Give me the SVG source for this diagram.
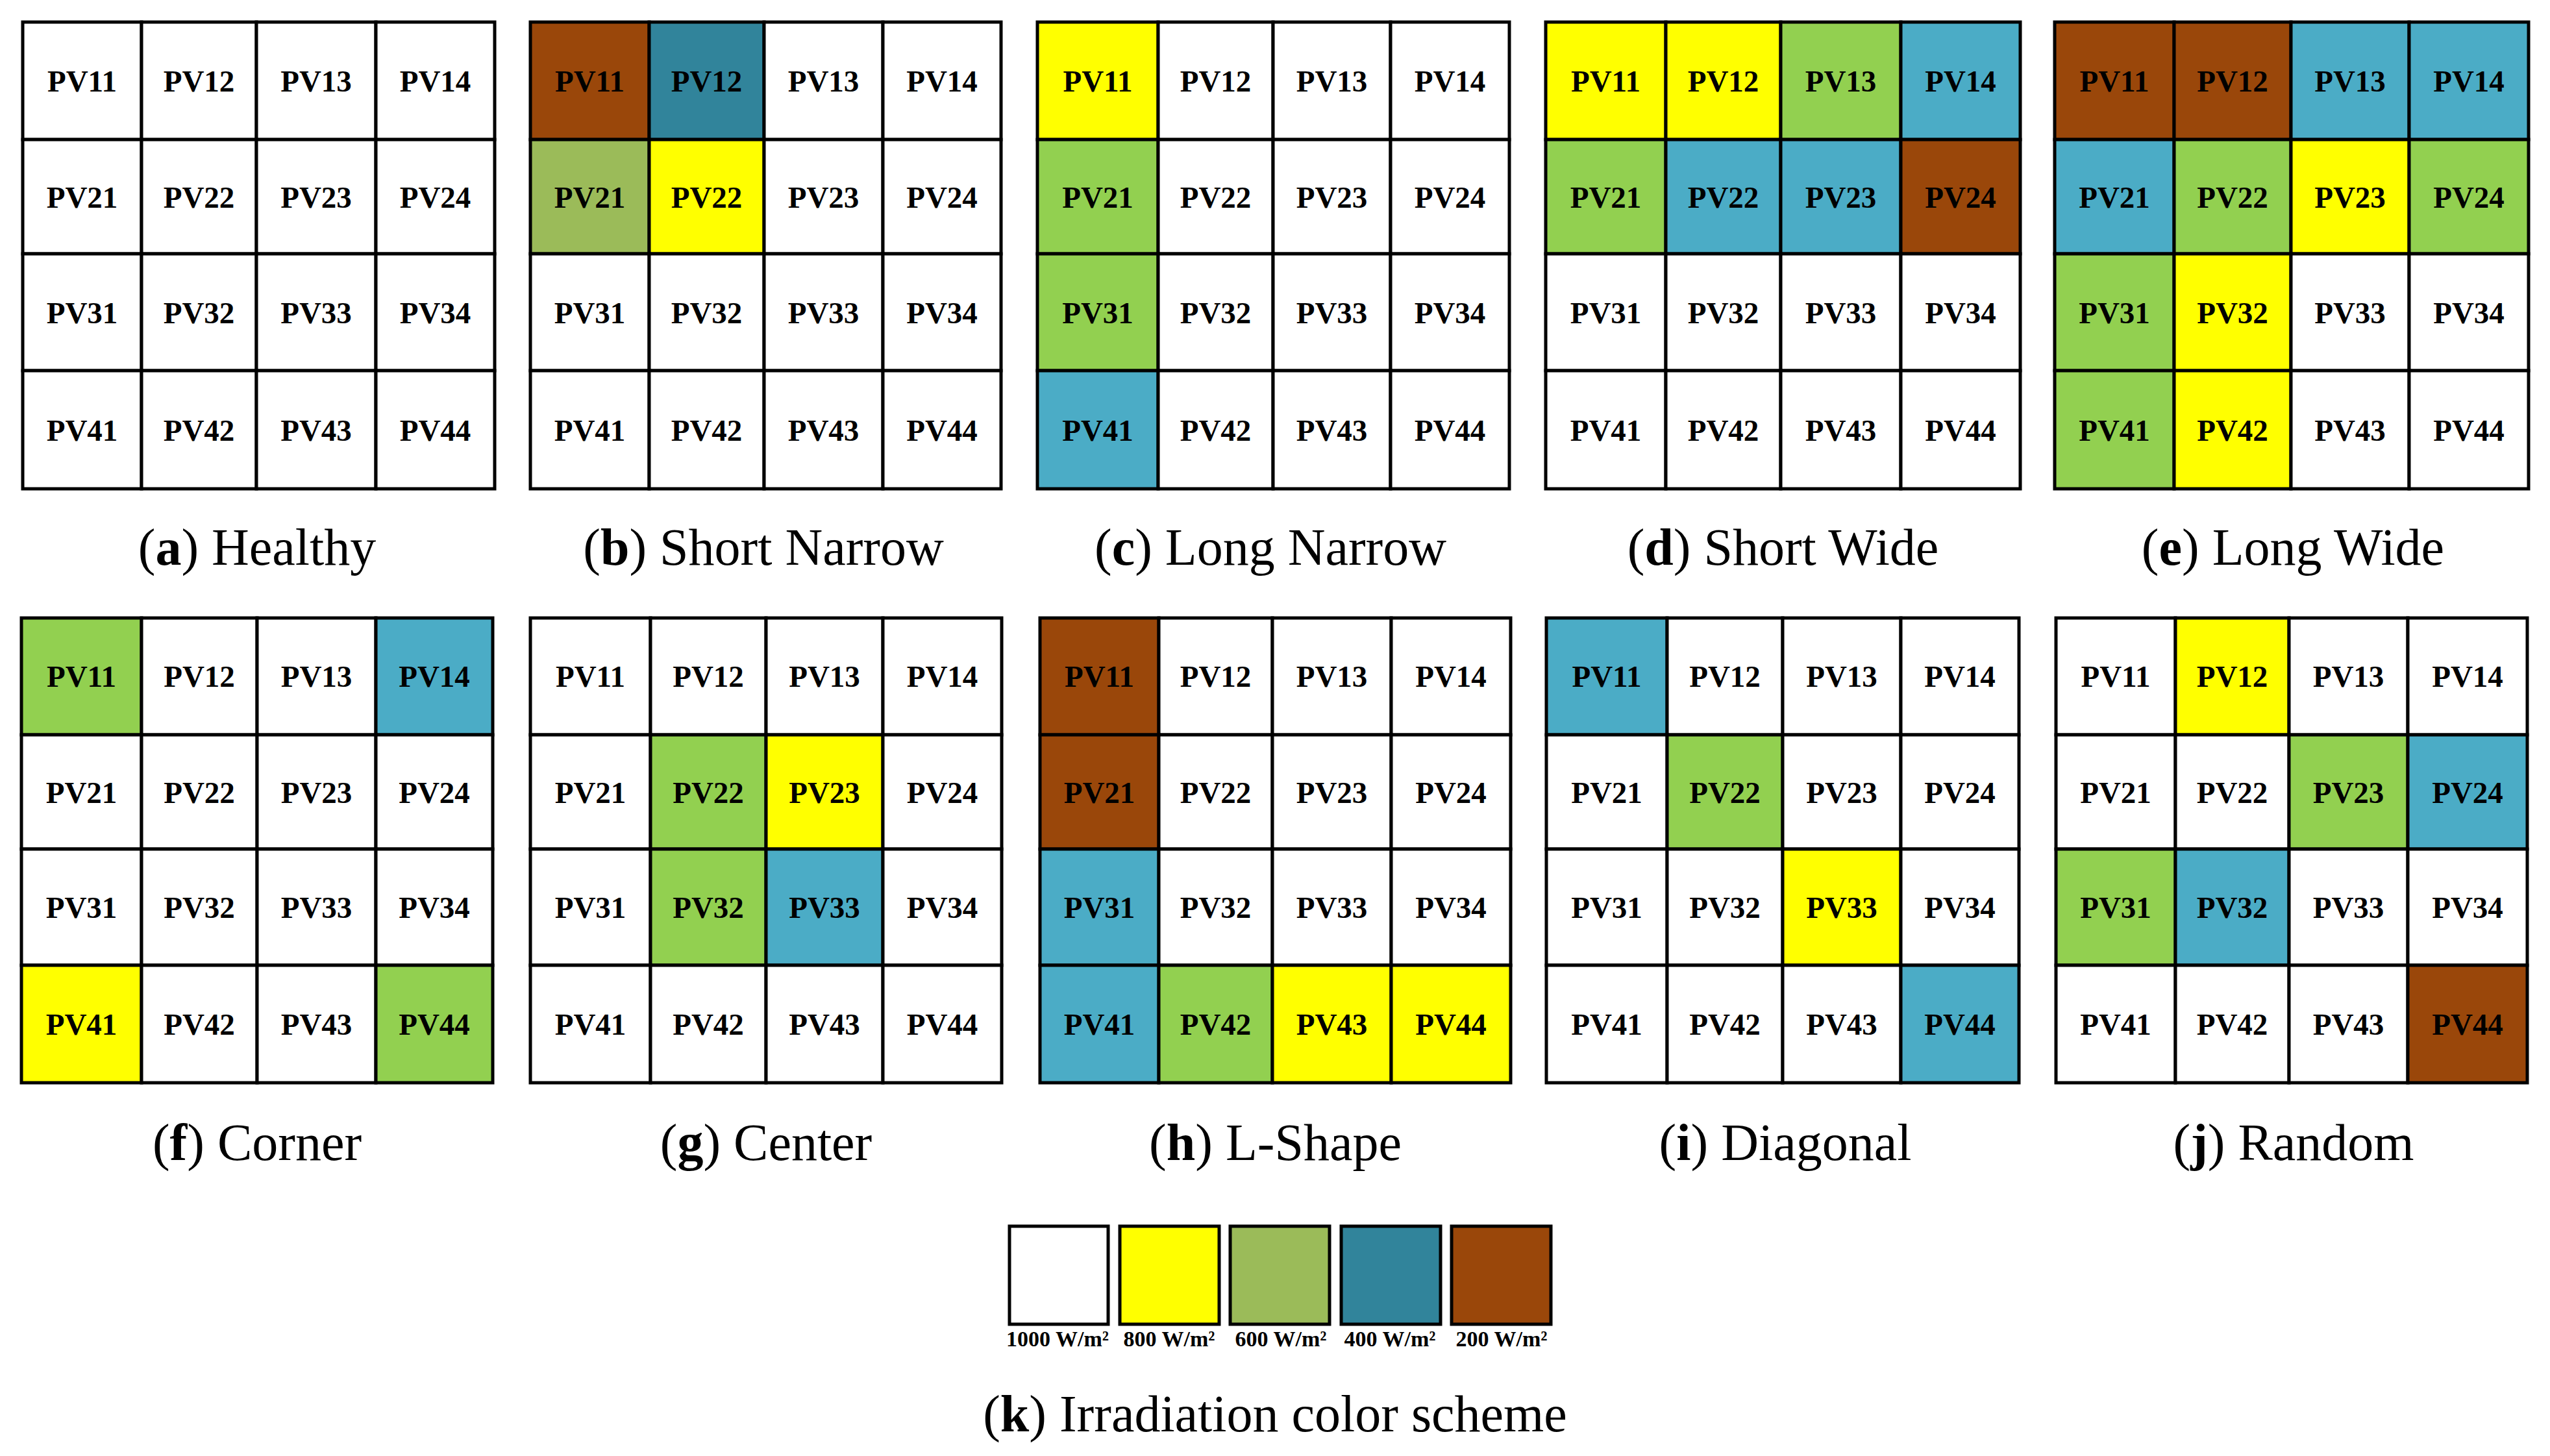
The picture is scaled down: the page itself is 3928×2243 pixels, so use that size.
<svg xmlns="http://www.w3.org/2000/svg" width="3928" height="2243" viewBox="0 0 3928 2243">
<style>
.c{stroke:#000;stroke-width:5;stroke-linejoin:miter}
.w{fill:#fff}.y{fill:#ffff00}.g{fill:#92d050}.b{fill:#4bacc6}.r{fill:#9a470a}.t{fill:#31849b}.o{fill:#9bbb59}
.l{font-family:"Liberation Serif","DejaVu Serif",serif;font-weight:bold;font-size:47px;text-anchor:middle;fill:#000}
.cap{font-family:"Liberation Serif","DejaVu Serif",serif;font-size:80px;text-anchor:middle;fill:#000}
.lg{font-family:"Liberation Serif","DejaVu Serif",serif;font-weight:bold;font-size:34px;text-anchor:middle;fill:#000}
</style>
<rect width="3928" height="2243" fill="#fff"/>

<g id="panel-a">
<g id="a11"><rect class="c w" x="35" y="34" width="183" height="181"/><text class="l" x="126.5" y="141">PV11</text></g>
<g id="a12"><rect class="c w" x="218" y="34" width="177" height="181"/><text class="l" x="306.5" y="141">PV12</text></g>
<g id="a13"><rect class="c w" x="395" y="34" width="184" height="181"/><text class="l" x="487" y="141">PV13</text></g>
<g id="a14"><rect class="c w" x="579" y="34" width="183" height="181"/><text class="l" x="670.5" y="141">PV14</text></g>
<g id="a21"><rect class="c w" x="35" y="215" width="183" height="176"/><text class="l" x="126.5" y="320">PV21</text></g>
<g id="a22"><rect class="c w" x="218" y="215" width="177" height="176"/><text class="l" x="306.5" y="320">PV22</text></g>
<g id="a23"><rect class="c w" x="395" y="215" width="184" height="176"/><text class="l" x="487" y="320">PV23</text></g>
<g id="a24"><rect class="c w" x="579" y="215" width="183" height="176"/><text class="l" x="670.5" y="320">PV24</text></g>
<g id="a31"><rect class="c w" x="35" y="391" width="183" height="180"/><text class="l" x="126.5" y="498">PV31</text></g>
<g id="a32"><rect class="c w" x="218" y="391" width="177" height="180"/><text class="l" x="306.5" y="498">PV32</text></g>
<g id="a33"><rect class="c w" x="395" y="391" width="184" height="180"/><text class="l" x="487" y="498">PV33</text></g>
<g id="a34"><rect class="c w" x="579" y="391" width="183" height="180"/><text class="l" x="670.5" y="498">PV34</text></g>
<g id="a41"><rect class="c w" x="35" y="571" width="183" height="182"/><text class="l" x="126.5" y="679">PV41</text></g>
<g id="a42"><rect class="c w" x="218" y="571" width="177" height="182"/><text class="l" x="306.5" y="679">PV42</text></g>
<g id="a43"><rect class="c w" x="395" y="571" width="184" height="182"/><text class="l" x="487" y="679">PV43</text></g>
<g id="a44"><rect class="c w" x="579" y="571" width="183" height="182"/><text class="l" x="670.5" y="679">PV44</text></g>
<text class="cap" x="396" y="870">(<tspan font-weight="bold">a</tspan>) Healthy</text>
</g>

<g id="panel-b">
<g id="b11"><rect class="c r" x="817" y="34" width="183" height="181"/><text class="l" x="908.5" y="141">PV11</text></g>
<g id="b12"><rect class="c t" x="1000" y="34" width="177" height="181"/><text class="l" x="1088.5" y="141">PV12</text></g>
<g id="b13"><rect class="c w" x="1177" y="34" width="183" height="181"/><text class="l" x="1268.5" y="141">PV13</text></g>
<g id="b14"><rect class="c w" x="1360" y="34" width="182" height="181"/><text class="l" x="1451" y="141">PV14</text></g>
<g id="b21"><rect class="c o" x="817" y="215" width="183" height="176"/><text class="l" x="908.5" y="320">PV21</text></g>
<g id="b22"><rect class="c y" x="1000" y="215" width="177" height="176"/><text class="l" x="1088.5" y="320">PV22</text></g>
<g id="b23"><rect class="c w" x="1177" y="215" width="183" height="176"/><text class="l" x="1268.5" y="320">PV23</text></g>
<g id="b24"><rect class="c w" x="1360" y="215" width="182" height="176"/><text class="l" x="1451" y="320">PV24</text></g>
<g id="b31"><rect class="c w" x="817" y="391" width="183" height="180"/><text class="l" x="908.5" y="498">PV31</text></g>
<g id="b32"><rect class="c w" x="1000" y="391" width="177" height="180"/><text class="l" x="1088.5" y="498">PV32</text></g>
<g id="b33"><rect class="c w" x="1177" y="391" width="183" height="180"/><text class="l" x="1268.5" y="498">PV33</text></g>
<g id="b34"><rect class="c w" x="1360" y="391" width="182" height="180"/><text class="l" x="1451" y="498">PV34</text></g>
<g id="b41"><rect class="c w" x="817" y="571" width="183" height="182"/><text class="l" x="908.5" y="679">PV41</text></g>
<g id="b42"><rect class="c w" x="1000" y="571" width="177" height="182"/><text class="l" x="1088.5" y="679">PV42</text></g>
<g id="b43"><rect class="c w" x="1177" y="571" width="183" height="182"/><text class="l" x="1268.5" y="679">PV43</text></g>
<g id="b44"><rect class="c w" x="1360" y="571" width="182" height="182"/><text class="l" x="1451" y="679">PV44</text></g>
<text class="cap" x="1176" y="870">(<tspan font-weight="bold">b</tspan>) Short Narrow</text>
</g>

<g id="panel-c">
<g id="c11"><rect class="c y" x="1598" y="34" width="186" height="181"/><text class="l" x="1691" y="141">PV11</text></g>
<g id="c12"><rect class="c w" x="1784" y="34" width="177" height="181"/><text class="l" x="1872.5" y="141">PV12</text></g>
<g id="c13"><rect class="c w" x="1961" y="34" width="181" height="181"/><text class="l" x="2051.5" y="141">PV13</text></g>
<g id="c14"><rect class="c w" x="2142" y="34" width="183" height="181"/><text class="l" x="2233.5" y="141">PV14</text></g>
<g id="c21"><rect class="c g" x="1598" y="215" width="186" height="176"/><text class="l" x="1691" y="320">PV21</text></g>
<g id="c22"><rect class="c w" x="1784" y="215" width="177" height="176"/><text class="l" x="1872.5" y="320">PV22</text></g>
<g id="c23"><rect class="c w" x="1961" y="215" width="181" height="176"/><text class="l" x="2051.5" y="320">PV23</text></g>
<g id="c24"><rect class="c w" x="2142" y="215" width="183" height="176"/><text class="l" x="2233.5" y="320">PV24</text></g>
<g id="c31"><rect class="c g" x="1598" y="391" width="186" height="180"/><text class="l" x="1691" y="498">PV31</text></g>
<g id="c32"><rect class="c w" x="1784" y="391" width="177" height="180"/><text class="l" x="1872.5" y="498">PV32</text></g>
<g id="c33"><rect class="c w" x="1961" y="391" width="181" height="180"/><text class="l" x="2051.5" y="498">PV33</text></g>
<g id="c34"><rect class="c w" x="2142" y="391" width="183" height="180"/><text class="l" x="2233.5" y="498">PV34</text></g>
<g id="c41"><rect class="c b" x="1598" y="571" width="186" height="182"/><text class="l" x="1691" y="679">PV41</text></g>
<g id="c42"><rect class="c w" x="1784" y="571" width="177" height="182"/><text class="l" x="1872.5" y="679">PV42</text></g>
<g id="c43"><rect class="c w" x="1961" y="571" width="181" height="182"/><text class="l" x="2051.5" y="679">PV43</text></g>
<g id="c44"><rect class="c w" x="2142" y="571" width="183" height="182"/><text class="l" x="2233.5" y="679">PV44</text></g>
<text class="cap" x="1957" y="870">(<tspan font-weight="bold">c</tspan>) Long Narrow</text>
</g>

<g id="panel-d">
<g id="d11"><rect class="c y" x="2381" y="34" width="185" height="181"/><text class="l" x="2473.5" y="141">PV11</text></g>
<g id="d12"><rect class="c y" x="2566" y="34" width="177" height="181"/><text class="l" x="2654.5" y="141">PV12</text></g>
<g id="d13"><rect class="c g" x="2743" y="34" width="185" height="181"/><text class="l" x="2835.5" y="141">PV13</text></g>
<g id="d14"><rect class="c b" x="2928" y="34" width="184" height="181"/><text class="l" x="3020" y="141">PV14</text></g>
<g id="d21"><rect class="c g" x="2381" y="215" width="185" height="176"/><text class="l" x="2473.5" y="320">PV21</text></g>
<g id="d22"><rect class="c b" x="2566" y="215" width="177" height="176"/><text class="l" x="2654.5" y="320">PV22</text></g>
<g id="d23"><rect class="c b" x="2743" y="215" width="185" height="176"/><text class="l" x="2835.5" y="320">PV23</text></g>
<g id="d24"><rect class="c r" x="2928" y="215" width="184" height="176"/><text class="l" x="3020" y="320">PV24</text></g>
<g id="d31"><rect class="c w" x="2381" y="391" width="185" height="180"/><text class="l" x="2473.5" y="498">PV31</text></g>
<g id="d32"><rect class="c w" x="2566" y="391" width="177" height="180"/><text class="l" x="2654.5" y="498">PV32</text></g>
<g id="d33"><rect class="c w" x="2743" y="391" width="185" height="180"/><text class="l" x="2835.5" y="498">PV33</text></g>
<g id="d34"><rect class="c w" x="2928" y="391" width="184" height="180"/><text class="l" x="3020" y="498">PV34</text></g>
<g id="d41"><rect class="c w" x="2381" y="571" width="185" height="182"/><text class="l" x="2473.5" y="679">PV41</text></g>
<g id="d42"><rect class="c w" x="2566" y="571" width="177" height="182"/><text class="l" x="2654.5" y="679">PV42</text></g>
<g id="d43"><rect class="c w" x="2743" y="571" width="185" height="182"/><text class="l" x="2835.5" y="679">PV43</text></g>
<g id="d44"><rect class="c w" x="2928" y="571" width="184" height="182"/><text class="l" x="3020" y="679">PV44</text></g>
<text class="cap" x="2746.5" y="870">(<tspan font-weight="bold">d</tspan>) Short Wide</text>
</g>

<g id="panel-e">
<g id="e11"><rect class="c r" x="3165" y="34" width="184" height="181"/><text class="l" x="3257" y="141">PV11</text></g>
<g id="e12"><rect class="c r" x="3349" y="34" width="180" height="181"/><text class="l" x="3439" y="141">PV12</text></g>
<g id="e13"><rect class="c b" x="3529" y="34" width="182" height="181"/><text class="l" x="3620" y="141">PV13</text></g>
<g id="e14"><rect class="c b" x="3711" y="34" width="184" height="181"/><text class="l" x="3803" y="141">PV14</text></g>
<g id="e21"><rect class="c b" x="3165" y="215" width="184" height="176"/><text class="l" x="3257" y="320">PV21</text></g>
<g id="e22"><rect class="c g" x="3349" y="215" width="180" height="176"/><text class="l" x="3439" y="320">PV22</text></g>
<g id="e23"><rect class="c y" x="3529" y="215" width="182" height="176"/><text class="l" x="3620" y="320">PV23</text></g>
<g id="e24"><rect class="c g" x="3711" y="215" width="184" height="176"/><text class="l" x="3803" y="320">PV24</text></g>
<g id="e31"><rect class="c g" x="3165" y="391" width="184" height="180"/><text class="l" x="3257" y="498">PV31</text></g>
<g id="e32"><rect class="c y" x="3349" y="391" width="180" height="180"/><text class="l" x="3439" y="498">PV32</text></g>
<g id="e33"><rect class="c w" x="3529" y="391" width="182" height="180"/><text class="l" x="3620" y="498">PV33</text></g>
<g id="e34"><rect class="c w" x="3711" y="391" width="184" height="180"/><text class="l" x="3803" y="498">PV34</text></g>
<g id="e41"><rect class="c g" x="3165" y="571" width="184" height="182"/><text class="l" x="3257" y="679">PV41</text></g>
<g id="e42"><rect class="c y" x="3349" y="571" width="180" height="182"/><text class="l" x="3439" y="679">PV42</text></g>
<g id="e43"><rect class="c w" x="3529" y="571" width="182" height="182"/><text class="l" x="3620" y="679">PV43</text></g>
<g id="e44"><rect class="c w" x="3711" y="571" width="184" height="182"/><text class="l" x="3803" y="679">PV44</text></g>
<text class="cap" x="3532" y="870">(<tspan font-weight="bold">e</tspan>) Long Wide</text>
</g>

<g id="panel-f">
<g id="f11"><rect class="c g" x="33" y="952" width="185" height="180"/><text class="l" x="125.5" y="1058">PV11</text></g>
<g id="f12"><rect class="c w" x="218" y="952" width="178" height="180"/><text class="l" x="307" y="1058">PV12</text></g>
<g id="f13"><rect class="c w" x="396" y="952" width="183" height="180"/><text class="l" x="487.5" y="1058">PV13</text></g>
<g id="f14"><rect class="c b" x="579" y="952" width="180" height="180"/><text class="l" x="669" y="1058">PV14</text></g>
<g id="f21"><rect class="c w" x="33" y="1132" width="185" height="176"/><text class="l" x="125.5" y="1237">PV21</text></g>
<g id="f22"><rect class="c w" x="218" y="1132" width="178" height="176"/><text class="l" x="307" y="1237">PV22</text></g>
<g id="f23"><rect class="c w" x="396" y="1132" width="183" height="176"/><text class="l" x="487.5" y="1237">PV23</text></g>
<g id="f24"><rect class="c w" x="579" y="1132" width="180" height="176"/><text class="l" x="669" y="1237">PV24</text></g>
<g id="f31"><rect class="c w" x="33" y="1308" width="185" height="179"/><text class="l" x="125.5" y="1414">PV31</text></g>
<g id="f32"><rect class="c w" x="218" y="1308" width="178" height="179"/><text class="l" x="307" y="1414">PV32</text></g>
<g id="f33"><rect class="c w" x="396" y="1308" width="183" height="179"/><text class="l" x="487.5" y="1414">PV33</text></g>
<g id="f34"><rect class="c w" x="579" y="1308" width="180" height="179"/><text class="l" x="669" y="1414">PV34</text></g>
<g id="f41"><rect class="c y" x="33" y="1487" width="185" height="181"/><text class="l" x="125.5" y="1594">PV41</text></g>
<g id="f42"><rect class="c w" x="218" y="1487" width="178" height="181"/><text class="l" x="307" y="1594">PV42</text></g>
<g id="f43"><rect class="c w" x="396" y="1487" width="183" height="181"/><text class="l" x="487.5" y="1594">PV43</text></g>
<g id="f44"><rect class="c g" x="579" y="1487" width="180" height="181"/><text class="l" x="669" y="1594">PV44</text></g>
<text class="cap" x="396" y="1787">(<tspan font-weight="bold">f</tspan>) Corner</text>
</g>

<g id="panel-g">
<g id="g11"><rect class="c w" x="817" y="952" width="185" height="180"/><text class="l" x="909.5" y="1058">PV11</text></g>
<g id="g12"><rect class="c w" x="1002" y="952" width="178" height="180"/><text class="l" x="1091" y="1058">PV12</text></g>
<g id="g13"><rect class="c w" x="1180" y="952" width="180" height="180"/><text class="l" x="1270" y="1058">PV13</text></g>
<g id="g14"><rect class="c w" x="1360" y="952" width="183" height="180"/><text class="l" x="1451.5" y="1058">PV14</text></g>
<g id="g21"><rect class="c w" x="817" y="1132" width="185" height="176"/><text class="l" x="909.5" y="1237">PV21</text></g>
<g id="g22"><rect class="c g" x="1002" y="1132" width="178" height="176"/><text class="l" x="1091" y="1237">PV22</text></g>
<g id="g23"><rect class="c y" x="1180" y="1132" width="180" height="176"/><text class="l" x="1270" y="1237">PV23</text></g>
<g id="g24"><rect class="c w" x="1360" y="1132" width="183" height="176"/><text class="l" x="1451.5" y="1237">PV24</text></g>
<g id="g31"><rect class="c w" x="817" y="1308" width="185" height="179"/><text class="l" x="909.5" y="1414">PV31</text></g>
<g id="g32"><rect class="c g" x="1002" y="1308" width="178" height="179"/><text class="l" x="1091" y="1414">PV32</text></g>
<g id="g33"><rect class="c b" x="1180" y="1308" width="180" height="179"/><text class="l" x="1270" y="1414">PV33</text></g>
<g id="g34"><rect class="c w" x="1360" y="1308" width="183" height="179"/><text class="l" x="1451.5" y="1414">PV34</text></g>
<g id="g41"><rect class="c w" x="817" y="1487" width="185" height="181"/><text class="l" x="909.5" y="1594">PV41</text></g>
<g id="g42"><rect class="c w" x="1002" y="1487" width="178" height="181"/><text class="l" x="1091" y="1594">PV42</text></g>
<g id="g43"><rect class="c w" x="1180" y="1487" width="180" height="181"/><text class="l" x="1270" y="1594">PV43</text></g>
<g id="g44"><rect class="c w" x="1360" y="1487" width="183" height="181"/><text class="l" x="1451.5" y="1594">PV44</text></g>
<text class="cap" x="1180" y="1787">(<tspan font-weight="bold">g</tspan>) Center</text>
</g>

<g id="panel-h">
<g id="h11"><rect class="c r" x="1602" y="952" width="183" height="180"/><text class="l" x="1693.5" y="1058">PV11</text></g>
<g id="h12"><rect class="c w" x="1785" y="952" width="175" height="180"/><text class="l" x="1872.5" y="1058">PV12</text></g>
<g id="h13"><rect class="c w" x="1960" y="952" width="183" height="180"/><text class="l" x="2051.5" y="1058">PV13</text></g>
<g id="h14"><rect class="c w" x="2143" y="952" width="184" height="180"/><text class="l" x="2235" y="1058">PV14</text></g>
<g id="h21"><rect class="c r" x="1602" y="1132" width="183" height="176"/><text class="l" x="1693.5" y="1237">PV21</text></g>
<g id="h22"><rect class="c w" x="1785" y="1132" width="175" height="176"/><text class="l" x="1872.5" y="1237">PV22</text></g>
<g id="h23"><rect class="c w" x="1960" y="1132" width="183" height="176"/><text class="l" x="2051.5" y="1237">PV23</text></g>
<g id="h24"><rect class="c w" x="2143" y="1132" width="184" height="176"/><text class="l" x="2235" y="1237">PV24</text></g>
<g id="h31"><rect class="c b" x="1602" y="1308" width="183" height="179"/><text class="l" x="1693.5" y="1414">PV31</text></g>
<g id="h32"><rect class="c w" x="1785" y="1308" width="175" height="179"/><text class="l" x="1872.5" y="1414">PV32</text></g>
<g id="h33"><rect class="c w" x="1960" y="1308" width="183" height="179"/><text class="l" x="2051.5" y="1414">PV33</text></g>
<g id="h34"><rect class="c w" x="2143" y="1308" width="184" height="179"/><text class="l" x="2235" y="1414">PV34</text></g>
<g id="h41"><rect class="c b" x="1602" y="1487" width="183" height="181"/><text class="l" x="1693.5" y="1594">PV41</text></g>
<g id="h42"><rect class="c g" x="1785" y="1487" width="175" height="181"/><text class="l" x="1872.5" y="1594">PV42</text></g>
<g id="h43"><rect class="c y" x="1960" y="1487" width="183" height="181"/><text class="l" x="2051.5" y="1594">PV43</text></g>
<g id="h44"><rect class="c y" x="2143" y="1487" width="184" height="181"/><text class="l" x="2235" y="1594">PV44</text></g>
<text class="cap" x="1964.5" y="1787">(<tspan font-weight="bold">h</tspan>) L-Shape</text>
</g>

<g id="panel-i">
<g id="i11"><rect class="c b" x="2382" y="952" width="186" height="180"/><text class="l" x="2475" y="1058">PV11</text></g>
<g id="i12"><rect class="c w" x="2568" y="952" width="178" height="180"/><text class="l" x="2657" y="1058">PV12</text></g>
<g id="i13"><rect class="c w" x="2746" y="952" width="182" height="180"/><text class="l" x="2837" y="1058">PV13</text></g>
<g id="i14"><rect class="c w" x="2928" y="952" width="182" height="180"/><text class="l" x="3019" y="1058">PV14</text></g>
<g id="i21"><rect class="c w" x="2382" y="1132" width="186" height="176"/><text class="l" x="2475" y="1237">PV21</text></g>
<g id="i22"><rect class="c g" x="2568" y="1132" width="178" height="176"/><text class="l" x="2657" y="1237">PV22</text></g>
<g id="i23"><rect class="c w" x="2746" y="1132" width="182" height="176"/><text class="l" x="2837" y="1237">PV23</text></g>
<g id="i24"><rect class="c w" x="2928" y="1132" width="182" height="176"/><text class="l" x="3019" y="1237">PV24</text></g>
<g id="i31"><rect class="c w" x="2382" y="1308" width="186" height="179"/><text class="l" x="2475" y="1414">PV31</text></g>
<g id="i32"><rect class="c w" x="2568" y="1308" width="178" height="179"/><text class="l" x="2657" y="1414">PV32</text></g>
<g id="i33"><rect class="c y" x="2746" y="1308" width="182" height="179"/><text class="l" x="2837" y="1414">PV33</text></g>
<g id="i34"><rect class="c w" x="2928" y="1308" width="182" height="179"/><text class="l" x="3019" y="1414">PV34</text></g>
<g id="i41"><rect class="c w" x="2382" y="1487" width="186" height="181"/><text class="l" x="2475" y="1594">PV41</text></g>
<g id="i42"><rect class="c w" x="2568" y="1487" width="178" height="181"/><text class="l" x="2657" y="1594">PV42</text></g>
<g id="i43"><rect class="c w" x="2746" y="1487" width="182" height="181"/><text class="l" x="2837" y="1594">PV43</text></g>
<g id="i44"><rect class="c b" x="2928" y="1487" width="182" height="181"/><text class="l" x="3019" y="1594">PV44</text></g>
<text class="cap" x="2750" y="1787">(<tspan font-weight="bold">i</tspan>) Diagonal</text>
</g>

<g id="panel-j">
<g id="j11"><rect class="c w" x="3167" y="952" width="184" height="180"/><text class="l" x="3259" y="1058">PV11</text></g>
<g id="j12"><rect class="c y" x="3351" y="952" width="175" height="180"/><text class="l" x="3438.5" y="1058">PV12</text></g>
<g id="j13"><rect class="c w" x="3526" y="952" width="183" height="180"/><text class="l" x="3617.5" y="1058">PV13</text></g>
<g id="j14"><rect class="c w" x="3709" y="952" width="184" height="180"/><text class="l" x="3801" y="1058">PV14</text></g>
<g id="j21"><rect class="c w" x="3167" y="1132" width="184" height="176"/><text class="l" x="3259" y="1237">PV21</text></g>
<g id="j22"><rect class="c w" x="3351" y="1132" width="175" height="176"/><text class="l" x="3438.5" y="1237">PV22</text></g>
<g id="j23"><rect class="c g" x="3526" y="1132" width="183" height="176"/><text class="l" x="3617.5" y="1237">PV23</text></g>
<g id="j24"><rect class="c b" x="3709" y="1132" width="184" height="176"/><text class="l" x="3801" y="1237">PV24</text></g>
<g id="j31"><rect class="c g" x="3167" y="1308" width="184" height="179"/><text class="l" x="3259" y="1414">PV31</text></g>
<g id="j32"><rect class="c b" x="3351" y="1308" width="175" height="179"/><text class="l" x="3438.5" y="1414">PV32</text></g>
<g id="j33"><rect class="c w" x="3526" y="1308" width="183" height="179"/><text class="l" x="3617.5" y="1414">PV33</text></g>
<g id="j34"><rect class="c w" x="3709" y="1308" width="184" height="179"/><text class="l" x="3801" y="1414">PV34</text></g>
<g id="j41"><rect class="c w" x="3167" y="1487" width="184" height="181"/><text class="l" x="3259" y="1594">PV41</text></g>
<g id="j42"><rect class="c w" x="3351" y="1487" width="175" height="181"/><text class="l" x="3438.5" y="1594">PV42</text></g>
<g id="j43"><rect class="c w" x="3526" y="1487" width="183" height="181"/><text class="l" x="3617.5" y="1594">PV43</text></g>
<g id="j44"><rect class="c r" x="3709" y="1487" width="184" height="181"/><text class="l" x="3801" y="1594">PV44</text></g>
<text class="cap" x="3533" y="1787">(<tspan font-weight="bold">j</tspan>) Random</text>
</g>

<g id="legend">
<g id="leg1000"><rect class="c w" x="1555" y="1889" width="152" height="151"/><text class="lg" x="1629" y="2074">1000 W/m²</text></g>
<g id="leg800"><rect class="c y" x="1725" y="1889" width="153" height="151"/><text class="lg" x="1801" y="2074">800 W/m²</text></g>
<g id="leg600"><rect class="c o" x="1895" y="1889" width="153" height="151"/><text class="lg" x="1973" y="2074">600 W/m²</text></g>
<g id="leg400"><rect class="c t" x="2066" y="1889" width="153" height="151"/><text class="lg" x="2141" y="2074">400 W/m²</text></g>
<g id="leg200"><rect class="c r" x="2236" y="1889" width="153" height="151"/><text class="lg" x="2313" y="2074">200 W/m²</text></g>
<text class="cap" x="1964" y="2205">(<tspan font-weight="bold">k</tspan>) Irradiation color scheme</text>
</g>
<g id="connectors"/>
</svg>
